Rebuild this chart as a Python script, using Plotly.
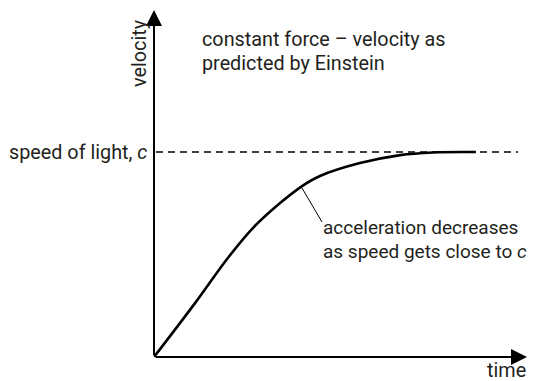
import plotly.graph_objects as go

# ---- data (time in arbitrary units, velocity as fraction of c)
time = [0.0, 1.10, 1.98, 2.65, 3.38, 3.97, 4.45, 5.52, 6.60, 7.48, 8.63]
velocity = [0.0, 0.263, 0.483, 0.629, 0.751, 0.834, 0.883, 0.946, 0.985, 0.998, 1.0]
c_level = 1.0
x_range = [0, 10]
y_range = [0, 1.693]

OFF = 8  # default page body margin
W, H = 539, 381
# plot area in page pixels: x 154..527, y 10..357
L, T = 154 - OFF, 10 - OFF
R = W - (527 - OFF)
B = H - (357 - OFF)
pw, ph = W - L - R, H - T - B


def px2paper(px):
    return (px - OFF - L) / pw


def py2paper(py):
    return (H - B - (py - OFF)) / ph


def dx(px):
    return x_range[0] + px2paper(px) * (x_range[1] - x_range[0])


def dy(py):
    return y_range[0] + py2paper(py) * (y_range[1] - y_range[0])


FONT = "Roboto"
TXT = "#231f20"
FS = 19.8

fig = go.Figure()
fig.add_trace(go.Scatter(x=time, y=velocity, mode="lines",
                         line=dict(color="black", width=2.6, shape="spline", smoothing=1.0),
                         hoverinfo="skip", showlegend=False, cliponaxis=False))

fig.add_shape(type="line", x0=dx(156), x1=dx(518), y0=c_level, y1=c_level,
              line=dict(color="black", width=1.6, dash="7px,5px"))
# leader line
fig.add_shape(type="line", x0=dx(302), y0=dy(188), x1=dx(322), y1=dy(222),
              line=dict(color="black", width=1))

# axes arrows
fig.add_annotation(x=0, y=y_range[1], ax=0, ay=0, axref="x", ayref="y",
                   showarrow=True, arrowhead=2, arrowsize=1.6, arrowwidth=2, arrowcolor="black", text="")
fig.add_annotation(x=x_range[1], y=0, ax=0, ay=0, axref="x", ayref="y",
                   showarrow=True, arrowhead=2, arrowsize=1.6, arrowwidth=2, arrowcolor="black", text="")


def label(text, px, py, xanchor="left", angle=0, yanchor="middle", size=FS):
    fig.add_annotation(x=px2paper(px), y=py2paper(py), xref="paper", yref="paper",
                       text=text, showarrow=False, xanchor=xanchor,
                       yanchor=yanchor, textangle=angle,
                       font=dict(family=FONT, size=size, color=TXT))


label("constant force – velocity as", 200, 39)
label("predicted by Einstein", 200, 64)
label("speed of light, <i>c</i>", 149, 152, xanchor="right")
label("velocity", 140, 53, xanchor="center", angle=-90)
label("acceleration decreases", 321, 227, size=19)
label("as speed gets close to <i>c</i>", 321, 251, size=19)
label("time", 528, 370, xanchor="right")

fig.update_layout(width=W, height=H, margin=dict(l=L, r=R, t=T, b=B),
                  paper_bgcolor="white", plot_bgcolor="white",
                  xaxis=dict(range=x_range, visible=False, fixedrange=True),
                  yaxis=dict(range=y_range, visible=False, fixedrange=True),
                  showlegend=False)
fig.write_html("out.html")
